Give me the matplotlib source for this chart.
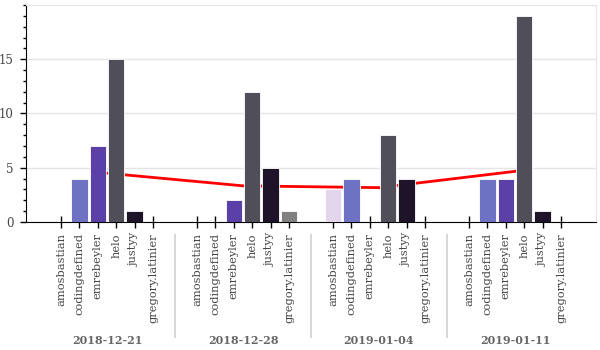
import matplotlib
matplotlib.use("Agg")
import matplotlib.pyplot as plt
from matplotlib.ticker import MultipleLocator, FixedLocator
import matplotlib.transforms as mtransforms
from matplotlib.lines import Line2D

weeks = ["2018-12-21", "2018-12-28", "2019-01-04", "2019-01-11"]
users = ["amosbastian", "codingdefined", "emrebeyler", "helo", "justyy", "gregory.latinier"]
counts = {
    "2018-12-21": [0, 4, 7, 15, 1, 0],
    "2018-12-28": [0, 0, 2, 12, 5, 1],
    "2019-01-04": [3, 4, 0, 8, 4, 0],
    "2019-01-11": [0, 4, 4, 19, 1, 0],
}
user_colors = ["#e2d5ec", "#6e72c2", "#5b40a8", "#504e58", "#1f1329", "#808080"]
averages = [sum(counts[w]) / len(users) for w in weeks]

group_pad = 1.4
n = len(users)

fig = plt.figure(figsize=(6, 3.5), dpi=100)
ax = fig.add_axes([26 / 600, (350 - 222) / 350, 570 / 600, 217 / 350])

xs, labels = [], []
centers = []
for gi, w in enumerate(weeks):
    base = gi * (n + group_pad)
    for ui, u in enumerate(users):
        x = base + ui + 0.5
        xs.append(x)
        labels.append(u)
        ax.bar(x, counts[w][ui], width=0.9, color=user_colors[ui],
               edgecolor="#ffffff", linewidth=0.6, zorder=3)
    centers.append(base + n / 2)

ax.plot(centers, averages, color="red", linewidth=2, zorder=2)

total = len(weeks) * n + (len(weeks) - 1) * group_pad
pad = 0.05 * total
ax.set_xlim(-pad, total + pad)
ax.set_ylim(0, 20)

ax.yaxis.set_major_locator(FixedLocator([0, 5, 10, 15]))
ax.yaxis.set_minor_locator(MultipleLocator(1))
ax.set_xticks(xs)
ax.set_xticklabels(labels, rotation=90, family="DejaVu Serif", fontsize=8.2, color="#444444")
ax.tick_params(axis="x", direction="inout", length=8, width=1, pad=4)
ax.tick_params(axis="y", which="major", direction="out", length=4, width=1, pad=5,
               labelsize=8.5, labelcolor="#444444")
ax.tick_params(axis="y", which="minor", direction="out", length=2.5, width=1)
for lab in ax.get_yticklabels():
    lab.set_family("DejaVu Serif")

ax.grid(axis="y", color="#e5e5e5", linewidth=1, zorder=0)
ax.set_axisbelow(True)
for s in ["top", "right"]:
    ax.spines[s].set_color("#e5e5e5")
for s in ["left", "bottom"]:
    ax.spines[s].set_color("black")

trans = mtransforms.blended_transform_factory(ax.transData, fig.transFigure)
for gi, w in enumerate(weeks):
    ax.text(centers[gi], (350 - 340) / 350, w, transform=trans, ha="center", va="center",
            fontsize=8, fontweight="bold", color="#666666", family="DejaVu Serif")
for gi in range(len(weeks) - 1):
    xsep = gi * (n + group_pad) + n + group_pad / 2
    ax.add_line(Line2D([xsep, xsep], [(350 - 235) / 350, (350 - 337) / 350], transform=trans,
                       color="#d9d9d9", linewidth=1.5, clip_on=False))

fig.savefig("out.png", dpi=100)
